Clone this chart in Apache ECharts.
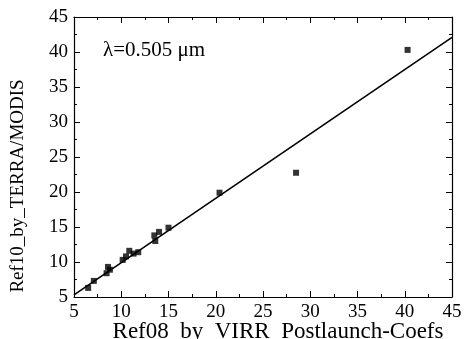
<!DOCTYPE html>
<html>
<head>
<meta charset="utf-8">
<script src="https://cdn.jsdelivr.net/npm/echarts@6/dist/echarts.min.js"></script>
<style>
  html, body { margin: 0; padding: 0; background: #fff; }
  #chart { width: 465px; height: 339px; }
</style>
</head>
<body>
<div id="chart"></div>
<script>
// data
var virrX = [6.5, 7.1, 8.45, 8.6, 8.8, 10.15, 10.5, 10.85, 11.3, 11.8, 13.5, 13.6, 14.0, 15.0, 20.4, 28.5, 40.3];
var modisY = [6.3, 7.3, 8.4, 9.3, 8.9, 10.3, 10.8, 11.6, 11.2, 11.4, 13.8, 13.0, 14.3, 14.9, 19.9, 22.75, 40.3];
var fitX = [5, 45];
var fitY = [5.3, 42.1];
var axisMin = 5, axisMax = 45, step = 5;

var font = 'Liberation Serif';
var pts = virrX.map(function (x, i) { return [x, modisY[i]]; });
var line = fitX.map(function (x, i) { return [x, fitY[i]]; });

var chart = echarts.init(document.getElementById('chart'));

function axis(pos, showLabel) {
  return {
    type: 'value', position: pos, min: axisMin, max: axisMax, interval: step,
    axisLine: { show: true, onZero: false, lineStyle: { color: '#000', width: 1.2 } },
    axisTick: { show: true, inside: true, length: 6, lineStyle: { color: '#000' } },
    minorTick: { show: true, splitNumber: 2, length: 3, lineStyle: { color: '#000' } },
    splitLine: { show: false },
    axisLabel: { show: showLabel, fontFamily: font, fontSize: 19, color: '#000', margin: 6 }
  };
}

chart.setOption({
  animation: false,
  grid: { left: 74, right: 13, top: 17, bottom: 42, outerBoundsMode: 'none' },
  xAxis: [axis('bottom', true), axis('top', false)],
  yAxis: [axis('left', true), axis('right', false)],
  graphic: [{
    type: 'text', left: 103, top: 40,
    style: { text: 'λ=0.505 μm', font: '21px "Liberation Serif"', fill: '#000' }
  }, {
    type: 'text', x: 18, y: 186, rotation: Math.PI / 2,
    style: { text: 'Ref10_by_TERRA/MODIS', font: '19px "Liberation Serif"', fill: '#000',
             align: 'center', verticalAlign: 'middle' }
  }, {
    type: 'text', x: 278, y: 332,
    style: { text: 'Ref08_by_VIRR_Postlaunch-Coefs', font: '23px "Liberation Serif"', fill: '#000',
             align: 'center', verticalAlign: 'middle' }
  }],
  series: [
    {
      type: 'line', data: line, symbol: 'none',
      lineStyle: { color: '#000', width: 1.6 }
    },
    {
      type: 'scatter', data: pts, symbol: 'rect', symbolSize: 6,
      itemStyle: { color: '#000' }
    }
  ]
});
</script>
</body>
</html>
